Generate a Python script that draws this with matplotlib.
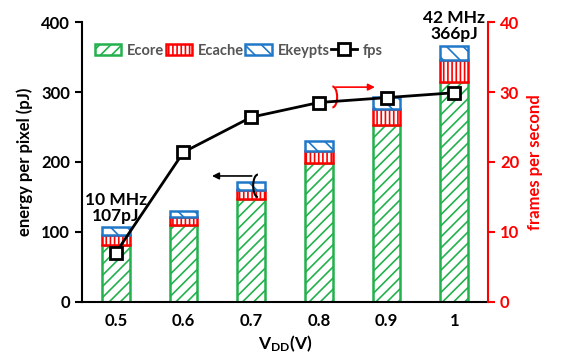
import numpy as np
import matplotlib.pyplot as plt
from matplotlib.patches import Arc

plt.rcParams['font.family'] = ['Lato', 'DejaVu Sans']
plt.rcParams['hatch.linewidth'] = 1.2

# data
vdd = ['0.5', '0.6', '0.7', '0.8', '0.9', '1']
e_core = [81, 110, 147, 198, 253, 315]
e_cache = [15, 11, 13, 18, 23, 31]
e_keypts = [11, 9, 11, 14, 17, 20]
fps = [7.0, 21.4, 26.4, 28.5, 29.2, 29.9]

x = np.arange(len(vdd))
w = 0.41

fig = plt.figure(figsize=(5.61, 3.56), dpi=100)
ax = fig.add_axes([0.146, 0.152, 0.724, 0.786])

green = '#22b14c'
red = '#ff0000'
blue = '#1f78c8'

b1 = ax.bar(x, e_core, w, color='white', edgecolor=green, hatch='///', lw=1.8, label='Ecore')
bot = np.array(e_core)
b2 = ax.bar(x, e_cache, w, bottom=bot, color='white', edgecolor=red, hatch='||||', lw=1.8, label='Ecache')
bot = bot + np.array(e_cache)
b3 = ax.bar(x, e_keypts, w, bottom=bot, color='white', edgecolor=blue, hatch='\\\\', lw=1.8, label='Ekeypts')

ax.set_xlim(-0.5, 5.5)
ax.set_ylim(0, 400)
ax.set_yticks([0, 100, 200, 300, 400])
ax.set_xticks(x)
ax.set_xticklabels(vdd, fontweight='bold', fontsize=12)
ax.tick_params(axis='x', length=0, pad=8)
ax.tick_params(axis='y', labelsize=12, width=1.5, length=5)
for t in ax.get_yticklabels():
    t.set_fontweight('bold')
ax.spines['top'].set_visible(False)
ax.spines['right'].set_visible(False)
ax.spines['left'].set_linewidth(1.5)
ax.spines['bottom'].set_linewidth(1.5)
ax.set_ylabel('energy per pixel (pJ)', fontweight='bold', fontsize=12, labelpad=6)
ax.set_xlabel(r'$\mathregular{V_{DD}}$(V)', fontsize=12.5, fontweight='bold', labelpad=3)

ax2 = ax.twinx()
ax2.set_ylim(0, 40)
ax2.set_yticks([0, 10, 20, 30, 40])
ln, = ax2.plot(x, fps, '-s', color='black', lw=2, ms=9, mfc='white', mec='black', mew=2, label='fps')
for s in ['top', 'left', 'bottom']:
    ax2.spines[s].set_visible(False)
ax2.spines['right'].set_color(red)
ax2.spines['right'].set_linewidth(1.5)
ax2.tick_params(axis='y', colors=red, labelsize=12, width=1.5, length=5)
for t in ax2.get_yticklabels():
    t.set_fontweight('bold')
ax2.set_ylabel('frames per second', color=red, fontweight='bold', fontsize=12, labelpad=6)

leg = ax.legend([b1, b2, b3, ln], ['Ecore', 'Ecache', 'Ekeypts', 'fps'], loc='upper left',
                ncol=4, frameon=False, fontsize=10.5, handlelength=1.8, handletextpad=0.4,
                columnspacing=0.1, bbox_to_anchor=(0.0, 0.97))
for t in leg.get_texts():
    t.set_color('#555555')
    t.set_fontweight('bold')

# annotations
ax.text(0.0, 112, '10 MHz\n107pJ', ha='center', va='bottom', fontsize=12.5, fontweight='bold', linespacing=1.0)
ax.text(5.0, 371, '42 MHz\n366pJ', ha='center', va='bottom', fontsize=12.5, fontweight='bold', linespacing=1.0)

ax.annotate('', xy=(1.38, 180), xytext=(2.05, 180),
            arrowprops=dict(arrowstyle='-|>', color='black', lw=1.2, mutation_scale=10))
ax.add_patch(Arc((2.1, 166), 0.14, 32, theta1=90, theta2=270, color='black', lw=1.5))
ax2.annotate('', xy=(3.87, 30.7), xytext=(3.21, 30.7),
             arrowprops=dict(arrowstyle='-|>', color=red, lw=1.2, mutation_scale=10))
ax2.add_patch(Arc((3.2, 29.3), 0.14, 3.0, theta1=-90, theta2=90, color=red, lw=1.5))

fig.savefig('out.png', dpi=100)
